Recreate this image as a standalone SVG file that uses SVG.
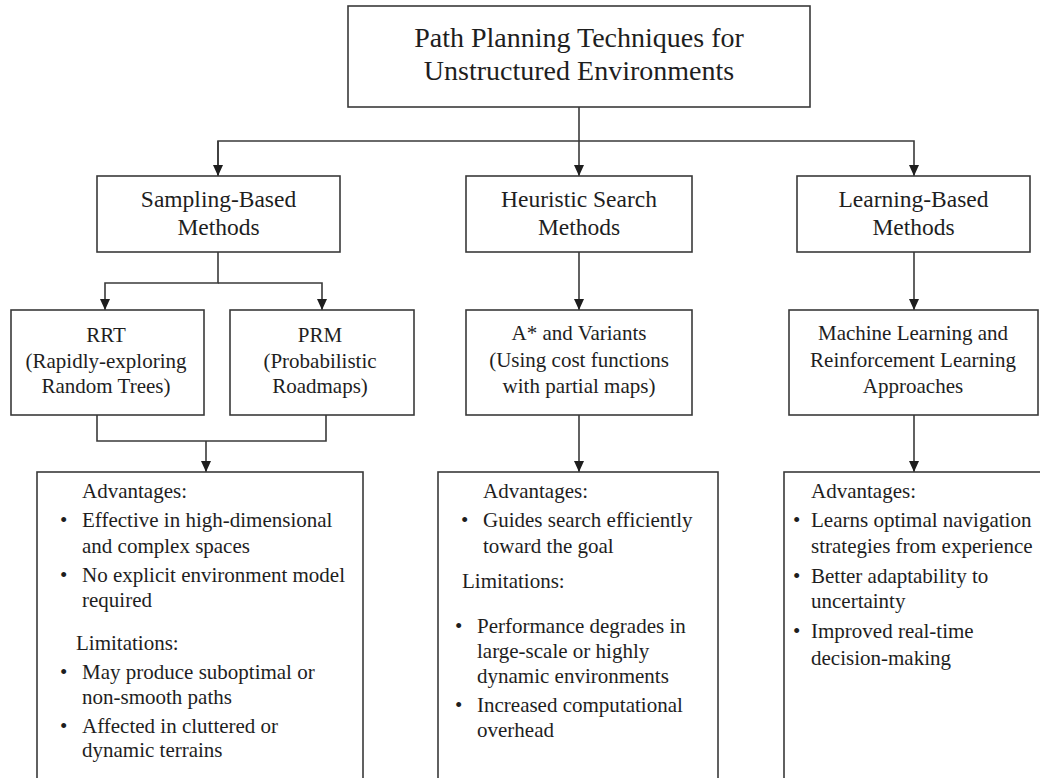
<svg xmlns="http://www.w3.org/2000/svg" width="1040" height="778" viewBox="0 0 1040 778">
<style>
  .box { fill: #ffffff; stroke: #3a3a3a; stroke-width: 1.6; }
  .t { font-family: "Liberation Serif", "Times New Roman", serif; fill: #1e1e1e; }
  .title { font-size: 28px; text-anchor: middle; }
  .l2 { font-size: 23.5px; text-anchor: middle; }
  .l3 { font-size: 21px; text-anchor: middle; }
  .b { font-size: 21px; }
  .conn { fill: none; stroke: #3a3a3a; stroke-width: 1.6; }
</style>
<defs>
  <marker id="arr" markerUnits="userSpaceOnUse" markerWidth="12" markerHeight="12" viewBox="0 0 12 12" refX="11" refY="6" orient="auto">
    <path d="M0,1 L11,6 L0,11 Z" fill="#1e1e1e"/>
  </marker>
</defs>
<rect width="1040" height="778" fill="#ffffff"/>

<g id="connectors">
  <path class="conn" d="M579,107 V176" marker-end="url(#arr)"/>
  <path class="conn" d="M218,176 V141 H914 V176" marker-end="url(#arr)"/>
  <path class="conn" d="M218,141 V176" marker-end="url(#arr)"/>
  <path class="conn" d="M218,252 V283 H105 V310" marker-end="url(#arr)"/>
  <path class="conn" d="M218,283 H322 V310" marker-end="url(#arr)"/>
  <path class="conn" d="M579,252 V310" marker-end="url(#arr)"/>
  <path class="conn" d="M914,252 V310" marker-end="url(#arr)"/>
  <path class="conn" d="M97,415 V441 H326 V415"/>
  <path class="conn" d="M206,441 V472" marker-end="url(#arr)"/>
  <path class="conn" d="M579,415 V472" marker-end="url(#arr)"/>
  <path class="conn" d="M914,415 V472" marker-end="url(#arr)"/>
</g>

<g id="root">
  <rect class="box" x="348" y="6" width="462" height="101"/>
  <text class="t title" x="579" y="47">Path Planning Techniques for</text>
  <text class="t title" x="579" y="80">Unstructured Environments</text>
</g>

<g id="sampling">
  <rect class="box" x="97" y="176" width="243" height="76"/>
  <text class="t l2" x="218.5" y="207">Sampling-Based</text>
  <text class="t l2" x="218.5" y="235">Methods</text>
</g>

<g id="heuristic">
  <rect class="box" x="466" y="176" width="226" height="76"/>
  <text class="t l2" x="579" y="207">Heuristic Search</text>
  <text class="t l2" x="579" y="235">Methods</text>
</g>

<g id="learning">
  <rect class="box" x="797" y="176" width="233" height="76"/>
  <text class="t l2" x="913.5" y="207">Learning-Based</text>
  <text class="t l2" x="913.5" y="235">Methods</text>
</g>

<g id="rrt">
  <rect class="box" x="11" y="310" width="193" height="105"/>
  <text class="t l3" x="106" y="342">RRT</text>
  <text class="t l3" x="106" y="368">(Rapidly-exploring</text>
  <text class="t l3" x="106" y="393">Random Trees)</text>
</g>

<g id="prm">
  <rect class="box" x="230" y="310" width="184" height="105"/>
  <text class="t l3" x="320" y="342">PRM</text>
  <text class="t l3" x="320" y="368">(Probabilistic</text>
  <text class="t l3" x="320" y="393">Roadmaps)</text>
</g>

<g id="astar">
  <rect class="box" x="466" y="310" width="226" height="105"/>
  <text class="t l3" x="579" y="340">A* and Variants</text>
  <text class="t l3" x="579" y="367">(Using cost functions</text>
  <text class="t l3" x="579" y="393">with partial maps)</text>
</g>

<g id="ml">
  <rect class="box" x="789" y="310" width="249" height="105"/>
  <text class="t l3" x="913" y="340">Machine Learning and</text>
  <text class="t l3" x="913" y="367">Reinforcement Learning</text>
  <text class="t l3" x="913" y="393">Approaches</text>
</g>

<g id="sampling-details">
  <rect class="box" x="37" y="472" width="326" height="330"/>
  <text class="t b" x="82" y="498">Advantages:</text>
  <text class="t b" x="60" y="527">•</text>
  <text class="t b" x="82" y="527">Effective in high-dimensional</text>
  <text class="t b" x="82" y="553">and complex spaces</text>
  <text class="t b" x="60" y="582">•</text>
  <text class="t b" x="82" y="582">No explicit environment model</text>
  <text class="t b" x="82" y="607">required</text>
  <text class="t b" x="76" y="650">Limitations:</text>
  <text class="t b" x="60" y="679">•</text>
  <text class="t b" x="82" y="679">May produce suboptimal or</text>
  <text class="t b" x="82" y="704">non-smooth paths</text>
  <text class="t b" x="60" y="733">•</text>
  <text class="t b" x="82" y="733">Affected in cluttered or</text>
  <text class="t b" x="82" y="757">dynamic terrains</text>
</g>

<g id="heuristic-details">
  <rect class="box" x="438" y="472" width="280" height="330"/>
  <text class="t b" x="483" y="498">Advantages:</text>
  <text class="t b" x="461" y="527">•</text>
  <text class="t b" x="483" y="527">Guides search efficiently</text>
  <text class="t b" x="483" y="553">toward the goal</text>
  <text class="t b" x="462" y="588">Limitations:</text>
  <text class="t b" x="455" y="633">•</text>
  <text class="t b" x="477" y="633">Performance degrades in</text>
  <text class="t b" x="477" y="658">large-scale or highly</text>
  <text class="t b" x="477" y="683">dynamic environments</text>
  <text class="t b" x="455" y="712">•</text>
  <text class="t b" x="477" y="712">Increased computational</text>
  <text class="t b" x="477" y="737">overhead</text>
</g>

<g id="learning-details">
  <rect class="box" x="784" y="472" width="280" height="330"/>
  <text class="t b" x="811" y="498">Advantages:</text>
  <text class="t b" x="793" y="527">•</text>
  <text class="t b" x="811" y="527">Learns optimal navigation</text>
  <text class="t b" x="811" y="553">strategies from experience</text>
  <text class="t b" x="793" y="583">•</text>
  <text class="t b" x="811" y="583">Better adaptability to</text>
  <text class="t b" x="811" y="608">uncertainty</text>
  <text class="t b" x="793" y="638">•</text>
  <text class="t b" x="811" y="638">Improved real-time</text>
  <text class="t b" x="811" y="665">decision-making</text>
</g>
</svg>
